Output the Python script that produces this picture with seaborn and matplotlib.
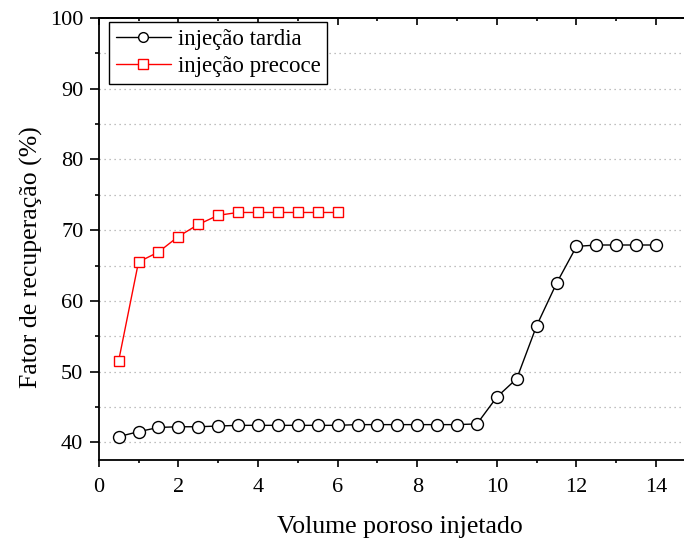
import matplotlib
matplotlib.use("Agg")
import matplotlib.pyplot as plt
import seaborn as sns
import pandas as pd
from matplotlib.ticker import MultipleLocator

x_tardia = [0.5, 1.0, 1.5, 2.0, 2.5, 3.0, 3.5, 4.0, 4.5, 5.0, 5.5, 6.0, 6.5, 7.0,
            7.5, 8.0, 8.5, 9.0, 9.5, 10.0, 10.5, 11.0, 11.5, 12.0, 12.5, 13.0, 13.5, 14.0]
y_tardia = [40.8, 41.5, 42.1, 42.2, 42.2, 42.3, 42.4, 42.4, 42.4, 42.4, 42.4, 42.4, 42.5, 42.5,
            42.5, 42.5, 42.5, 42.5, 42.6, 46.4, 49.0, 56.5, 62.5, 67.7, 67.9, 67.9, 67.9, 67.9]
x_precoce = [0.5, 1.0, 1.5, 2.0, 2.5, 3.0, 3.5, 4.0, 4.5, 5.0, 5.5, 6.0]
y_precoce = [51.5, 65.5, 66.9, 69.1, 70.8, 72.1, 72.5, 72.5, 72.5, 72.5, 72.5, 72.5]
labels = ["injeção tardia", "injeção precoce"]

sns.set_style("ticks")
plt.rcParams['font.family'] = ['Liberation Serif', 'DejaVu Serif']
plt.rcParams['text.color'] = 'black'
plt.rcParams['axes.labelcolor'] = 'black'
plt.rcParams['xtick.color'] = 'black'
plt.rcParams['ytick.color'] = 'black'
plt.rcParams['axes.edgecolor'] = 'black'

fig = plt.figure(figsize=(6.84, 5.39), dpi=100)
ax = fig.add_axes([0.1443, 0.1466, 0.8557, 0.82])

df1 = pd.DataFrame({"x": x_tardia, "y": y_tardia})
df2 = pd.DataFrame({"x": x_precoce, "y": y_precoce})
sns.lineplot(data=df1, x="x", y="y", ax=ax, color="black", lw=1.0, marker="o",
             markersize=8.6, markerfacecolor="white", markeredgecolor="black",
             markeredgewidth=1.0, label=labels[0])
sns.lineplot(data=df2, x="x", y="y", ax=ax, color="red", lw=1.0, marker="s",
             markersize=7.6, markerfacecolor="white", markeredgecolor="red",
             markeredgewidth=1.0, label=labels[1])

ax.set_xlim(0, 14.70)
ax.set_ylim(37.5, 100)
ax.xaxis.set_major_locator(MultipleLocator(2))
ax.xaxis.set_minor_locator(MultipleLocator(1))
ax.yaxis.set_major_locator(MultipleLocator(10))
ax.yaxis.set_minor_locator(MultipleLocator(5))
ax.yaxis.grid(True, which="both", linestyle=(0, (1, 3)), color="#aaaaaa", lw=0.9)
ax.set_axisbelow(True)

ax.tick_params(axis="x", which="major", labelsize=16, direction="out", length=5,
               width=1.2, pad=8)
ax.tick_params(axis="x", which="minor", direction="out", length=2.5, width=1.2)
ax.tick_params(axis="y", which="major", labelsize=16, direction="out", length=6.5,
               width=1.2, pad=4.6)
ax.tick_params(axis="y", which="minor", direction="out", length=3, width=1.2)
ax.tick_params(top=False, right=False, which="both")

sec = ax.secondary_xaxis("top")
sec.xaxis.set_major_locator(MultipleLocator(2))
sec.xaxis.set_minor_locator(MultipleLocator(1))
sec.tick_params(which="major", direction="in", length=5, width=1.2, labeltop=False)
sec.tick_params(which="minor", direction="in", length=2.5, width=1.2)
sec.spines["top"].set_linewidth(1.3)

for s in ax.spines.values():
    s.set_linewidth(1.3)
ax.spines["right"].set_visible(False)

ax.set_xlabel("Volume poroso injetado", fontsize=18.5, labelpad=14)
ax.set_ylabel("Fator de recuperação (%)", fontsize=18.5, labelpad=5)
ax.xaxis.label.set_x(0.515)
ax.yaxis.label.set_y(0.459)

leg = ax.legend(loc="upper left", fontsize=16.5, frameon=True, fancybox=False,
                edgecolor="black", framealpha=1, handlelength=2.4, borderpad=0.3,
                labelspacing=0.25, handletextpad=0.3, borderaxespad=0,
                bbox_to_anchor=(0.0178, 0.99))
leg.get_frame().set_linewidth(1.0)
leg._legend_box.pad = 0.3 * 16.5
for h in leg.legend_handles:
    h.set_markersize(7)
leg.legend_handles[1].set_markersize(6.5)

fig.savefig("out.png", dpi=100)
